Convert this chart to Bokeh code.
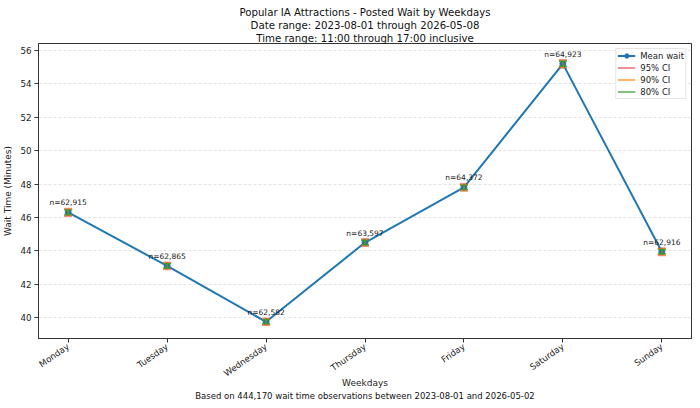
import math
from bokeh.plotting import figure
from bokeh.models import (ColumnDataSource, Title, Legend, LegendItem, FixedTicker, Range1d)
from bokeh.core.properties import value
from bokeh.embed import file_html
from bokeh.resources import INLINE

days = ["Monday", "Tuesday", "Wednesday", "Thursday", "Friday", "Saturday", "Sunday"]
mean_wait = [46.3, 43.1, 39.75, 44.5, 47.8, 55.2, 43.95]
ci95 = [0.21, 0.20, 0.19, 0.20, 0.20, 0.22, 0.20]
ci90 = [0.18, 0.17, 0.16, 0.17, 0.17, 0.19, 0.17]
ci80 = [0.14, 0.13, 0.12, 0.13, 0.13, 0.15, 0.13]
n_obs = ["n=62,915", "n=62,865", "n=62,582", "n=63,597", "n=64,372", "n=64,923", "n=62,916"]
y_ticks = [40, 42, 44, 46, 48, 50, 52, 54, 56]
title_lines = ["Popular IA Attractions - Posted Wait by Weekdays",
               "Date range: 2023-08-01 through 2026-05-08",
               "Time range: 11:00 through 17:00 inclusive"]
footnote = "Based on 444,170 wait time observations between 2023-08-01 and 2026-05-02"

FONT = "DejaVu Sans"
TXT = "#222222"
xs = list(range(len(days)))

p = figure(width=700, height=408, output_backend="svg", toolbar_location=None,
           x_range=Range1d(-0.3, 6.3), y_range=Range1d(38.75, 56.42),
           min_border_left=0, min_border_right=9, min_border_top=43, min_border_bottom=70)

p.outline_line_color = "#333333"
p.outline_line_width = 1
p.xgrid.grid_line_color = None
p.ygrid.grid_line_color = "#d9d9d9"
p.ygrid.grid_line_dash = "3 2"
p.ygrid.grid_line_width = 0.7

p.xaxis.ticker = FixedTicker(ticks=xs)
p.xaxis.major_label_overrides = {i: d for i, d in enumerate(days)}
p.xaxis.major_label_orientation = math.radians(35)
p.yaxis.ticker = FixedTicker(ticks=y_ticks)
for ax in (p.xaxis, p.yaxis):
    ax.major_label_text_font = FONT
    ax.major_label_text_font_size = "8.7px"
    ax.major_label_text_color = TXT
    ax.major_label_standoff = 3
    ax.axis_label_text_font = FONT
    ax.axis_label_text_font_size = "9px"
    ax.axis_label_text_font_style = "normal"
    ax.axis_label_text_color = TXT
    ax.axis_line_color = "#333333"
    ax.major_tick_line_color = "#333333"
    ax.minor_tick_line_color = None
    ax.major_tick_out = 4
    ax.major_tick_in = 0
p.xaxis.axis_label = "Weekdays"
p.yaxis.axis_label = "Wait Time (Minutes)"
p.xaxis.axis_label_standoff = -8
p.yaxis.axis_label_standoff = 4

src = ColumnDataSource(dict(
    x=xs, y=mean_wait, n=n_obs,
    lo95=[m - c for m, c in zip(mean_wait, ci95)], hi95=[m + c for m, c in zip(mean_wait, ci95)],
    lo90=[m - c for m, c in zip(mean_wait, ci90)], hi90=[m + c for m, c in zip(mean_wait, ci90)],
    lo80=[m - c for m, c in zip(mean_wait, ci80)], hi80=[m + c for m, c in zip(mean_wait, ci80)],
))

BLUE = "#1f77b4"
line_r = p.line("x", "y", source=src, line_color=BLUE, line_width=2)
pt_r = p.scatter("x", "y", source=src, size=6, fill_color=BLUE, line_color=BLUE)

ci_specs = [("95", "#d62728", 2.2, 0.5), ("90", "#ff7f0e", 1.8, 0.6), ("80", "#2ca02c", 1.5, 0.8)]
legend_items = [LegendItem(label="Mean wait", renderers=[line_r, pt_r])]
for tag, col, lw, alpha in ci_specs:
    seg = p.segment(x0="x", x1="x", y0="lo" + tag, y1="hi" + tag, source=src,
                    line_color=col, line_width=lw, line_alpha=alpha)
    p.scatter("x", "lo" + tag, source=src, marker="dash", size=8,
              line_color=col, line_width=lw, line_alpha=alpha)
    p.scatter("x", "hi" + tag, source=src, marker="dash", size=8,
              line_color=col, line_width=lw, line_alpha=alpha)
    legend_items.append(LegendItem(label=tag + "% CI", renderers=[seg]))

p.text("x", "y", text="n", source=src, y_offset=-5, text_align="center",
       text_baseline="bottom", text_font=value(FONT), text_font_size="7.5px",
       text_color=TXT)

legend = Legend(items=legend_items, location="top_right")
legend.label_text_font = FONT
legend.label_text_font_size = "8.5px"
legend.label_text_color = TXT
legend.label_height = 11
legend.glyph_height = 11
legend.glyph_width = 18
legend.label_standoff = 5
legend.spacing = 1
legend.padding = 1
legend.margin = 5
legend.border_line_color = "#cccccc"
legend.background_fill_alpha = 0.9
p.add_layout(legend, "center")

for txt in reversed(title_lines):
    p.add_layout(Title(text=txt, align="center", text_font=FONT, text_font_size="10.2px",
                       text_font_style="normal", text_color="#111111", standoff=0), "above")

p.add_layout(Title(text=footnote, align="center", text_font=FONT, text_font_size="8.5px",
                   text_font_style="normal", text_color="#111111", standoff=-4), "below")

open("out.html", "w").write(file_html(p, INLINE))
